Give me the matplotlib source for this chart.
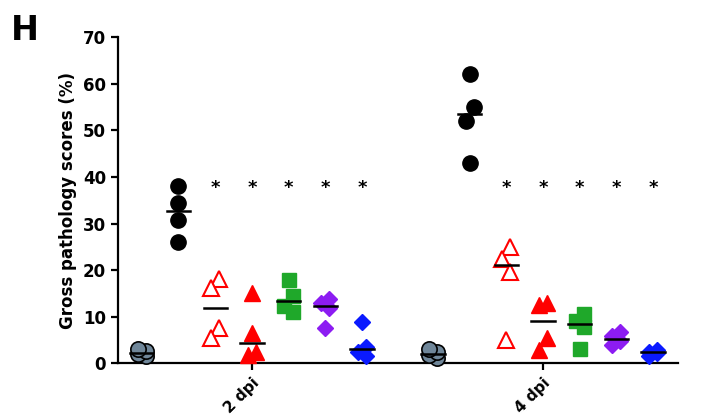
import matplotlib.pyplot as plt
import numpy as np

# timepoints on the x axis
timepoints = ['2 dpi', '4 dpi']

# scores per group, one list of 4 animals per timepoint
mock = [[1.5, 2.0, 2.6, 3.1], [1.2, 1.8, 2.4, 3.0]]
infected = [[38.1, 34.5, 30.7, 26.0], [62.1, 55.1, 52.1, 43.1]]
open_tri = [[18.0, 16.1, 7.5, 5.4], [25.0, 22.5, 19.7, 5.0]]
red_tri = [[15.0, 6.4, 2.5, 1.8], [13.0, 12.6, 5.4, 2.8]]
green_sq = [[17.8, 14.5, 12.3, 11.0], [10.5, 9.0, 7.8, 3.0]]
purple_dia = [[13.8, 13.0, 11.8, 7.6], [6.8, 5.8, 4.8, 3.9]]
blue_dia = [[8.9, 3.6, 2.4, 1.5], [2.8, 2.5, 2.2, 1.5]]

# groups marked as significant
signif = [False, False, True, True, True, True, True]
star_y = 37.6

groups = [mock, infected, open_tri, red_tri, green_sq, purple_dia, blue_dia]
styles = [
    dict(marker='o', mfc='#6f8699', mec='black', mew=1.2, ms=11),
    dict(marker='o', mfc='black', mec='black', ms=11),
    dict(marker='^', mfc='white', mec='#ff0000', mew=1.5, ms=11),
    dict(marker='^', mfc='#ff0000', mec='#ff0000', ms=11),
    dict(marker='s', mfc='#1fa82a', mec='#1fa82a', ms=10.5),
    dict(marker='D', mfc='#8c1cf2', mec='#8c1cf2', ms=8.5),
    dict(marker='D', mfc='#0a1aff', mec='#0a1aff', ms=8.5),
]
step = 0.126


def swarm(ys, gap=3.2, shift=0.014):
    # shift points sideways only where they would overlap a neighbour
    offs = np.zeros(len(ys))
    side = 1
    for i in range(1, len(ys)):
        if abs(ys[i] - ys[i - 1]) < gap:
            if offs[i - 1] == 0:
                offs[i - 1] = shift * side
            offs[i] = -offs[i - 1]
    return offs


fig = plt.figure(figsize=(7.02, 4.17), dpi=100)
ax = fig.add_axes([0.168, 0.1288, 0.798, 0.7818])

for t in range(len(timepoints)):
    for g, (vals, st) in enumerate(zip(groups, styles)):
        xc = t + (g - 3) * step
        ys = np.array(vals[t])
        xs = xc + swarm(ys)
        ax.plot(xs, ys, linestyle='none', zorder=3, clip_on=False, **st)
        med = np.median(ys)
        ax.plot([xc - 0.04, xc + 0.04], [med, med], color='black', lw=1.8, zorder=4)
        if signif[g]:
            ax.text(xc, star_y, '*', ha='center', va='center', fontsize=13, fontweight='bold')

ax.set_xlim(-0.46, 1.464)
ax.set_ylim(0, 70)
ax.set_yticks(range(0, 71, 10))
ax.set_xticks(range(len(timepoints)))
ax.set_xticklabels(timepoints, rotation=45, ha='right', rotation_mode='anchor',
                   fontsize=11, fontweight='bold')
for lab in ax.get_yticklabels():
    lab.set_fontweight('bold')
    lab.set_fontsize(12)
ax.set_ylabel('Gross pathology scores (%)', fontsize=12, fontweight='bold')
ax.spines['top'].set_visible(False)
ax.spines['right'].set_visible(False)
for s in ['left', 'bottom']:
    ax.spines[s].set_linewidth(1.6)
ax.tick_params(width=1.6, length=5)

fig.text(0.015, 0.905, 'H', fontsize=24, fontweight='bold')

plt.savefig('out.png', dpi=100)
